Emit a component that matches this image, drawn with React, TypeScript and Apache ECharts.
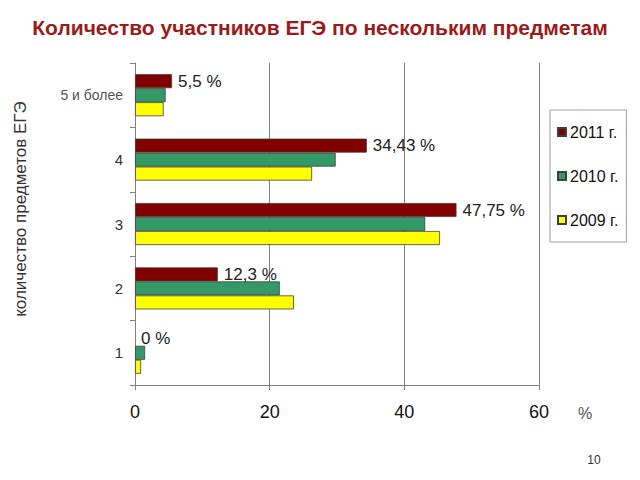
import React, { useEffect, useRef } from "react";
import * as echarts from "echarts";

const categories = ["1", "2", "3", "4", "5 и более"];
const series2011 = [0, 12.3, 47.75, 34.43, 5.5];
const series2010 = [1.5, 21.5, 43.1, 29.8, 4.55];
const series2009 = [0.9, 23.6, 45.3, 26.3, 4.25];
const labels2011 = ["0 %", "12,3 %", "47,75 %", "34,43 %", "5,5 %"];
const xTicks = [0, 20, 40, 60];
const seriesNames = ["2011 г.", "2010 г.", "2009 г."];

const FONT = "Liberation Sans, Arial, sans-serif";

export default function App() {
  const ref = useRef<HTMLDivElement>(null);
  useEffect(() => {
    const chart = echarts.init(ref.current!, null, { renderer: "svg" });
    const colors = ["#800000", "#339966", "#FFFF00"];
    const datas = [series2011, series2010, series2009];
    chart.setOption({
      animation: false,
      backgroundColor: "#ffffff",
      title: {
        text: "Количество участников ЕГЭ по нескольким предметам",
        left: "center",
        top: 12,
        textStyle: { fontFamily: FONT, fontSize: 21, fontWeight: "bold", color: "#9C1A1A" },
      },
      grid: { left: 135, right: 101, top: 63, bottom: 95, containLabel: false },
      legend: {
        orient: "vertical",
        left: 550,
        top: 110,
        width: 78,
        padding: [14, 8, 14, 7],
        itemGap: 28,
        itemWidth: 8,
        itemHeight: 8,
        icon: "rect",
        borderColor: "#a0a0a0",
        borderWidth: 1,
        data: seriesNames,
        textStyle: { fontFamily: FONT, fontSize: 16, color: "#111", padding: [0, 0, 0, -1] },
      },
      xAxis: {
        type: "value",
        min: 0,
        max: 60,
        interval: 20,
        axisLine: { show: true, lineStyle: { color: "#808080" } },
        axisTick: { show: true, length: 5, lineStyle: { color: "#808080" } },
        splitLine: { show: true, lineStyle: { color: "#808080", width: 1 } },
        axisLabel: {
          margin: 18,
          fontFamily: FONT,
          fontSize: 18,
          color: "#111",
          formatter: (v: number) => (xTicks.includes(v) ? String(v) : ""),
        },
      },
      yAxis: {
        type: "category",
        data: categories,
        axisLine: { show: true, lineStyle: { color: "#808080" } },
        axisTick: { show: true, length: 5, alignWithLabel: false, lineStyle: { color: "#808080" } },
        splitLine: { show: false },
        axisLabel: {
          margin: 12,
          fontFamily: FONT,
          color: "#333",
          formatter: (v: string) => (v.length > 2 ? "{s|" + v + "}" : "{n|" + v + "}"),
          rich: {
            s: { fontFamily: FONT, fontSize: 14, color: "#555" },
            n: { fontFamily: FONT, fontSize: 15, color: "#333" },
          },
        },
      },
      graphic: [
        {
          type: "text",
          x: 20,
          y: 209,
          rotation: Math.PI / 2,
          style: {
            text: "количество предметов ЕГЭ",
            fontFamily: FONT,
            fontSize: 17,
            fill: "#333",
            align: "center",
            verticalAlign: "middle",
          },
        },
        {
          type: "text",
          x: 585,
          y: 413,
          style: { text: "%", fontFamily: FONT, fontSize: 16, fill: "#555", align: "center", verticalAlign: "middle" },
        },
        {
          type: "text",
          x: 594,
          y: 460,
          style: { text: "10", fontFamily: FONT, fontSize: 12, fill: "#333", align: "center", verticalAlign: "middle" },
        },
      ],
      series: seriesNames.map((name, i) => ({
        name,
        type: "bar",
        data: datas[i].map((v) =>
          v === 0 ? { value: v, itemStyle: { borderWidth: 0, opacity: 0 } } : v
        ),
        barWidth: 14,
        barGap: "0%",
        itemStyle: { color: colors[i], borderColor: "#404040", borderWidth: 0.8 },
        label:
          i === 0
            ? {
                show: true,
                position: "right",
                distance: 6,
                fontFamily: FONT,
                fontSize: 17,
                color: "#222",
                opacity: 1,
                formatter: (p: any) => labels2011[p.dataIndex],
              }
            : { show: false },
      })),
    });
    return () => chart.dispose();
  }, []);
  return (
    <div
      ref={ref}
      style={{ position: "absolute", left: 0, top: 0, width: 640, height: 480 }}
    />
  );
}
